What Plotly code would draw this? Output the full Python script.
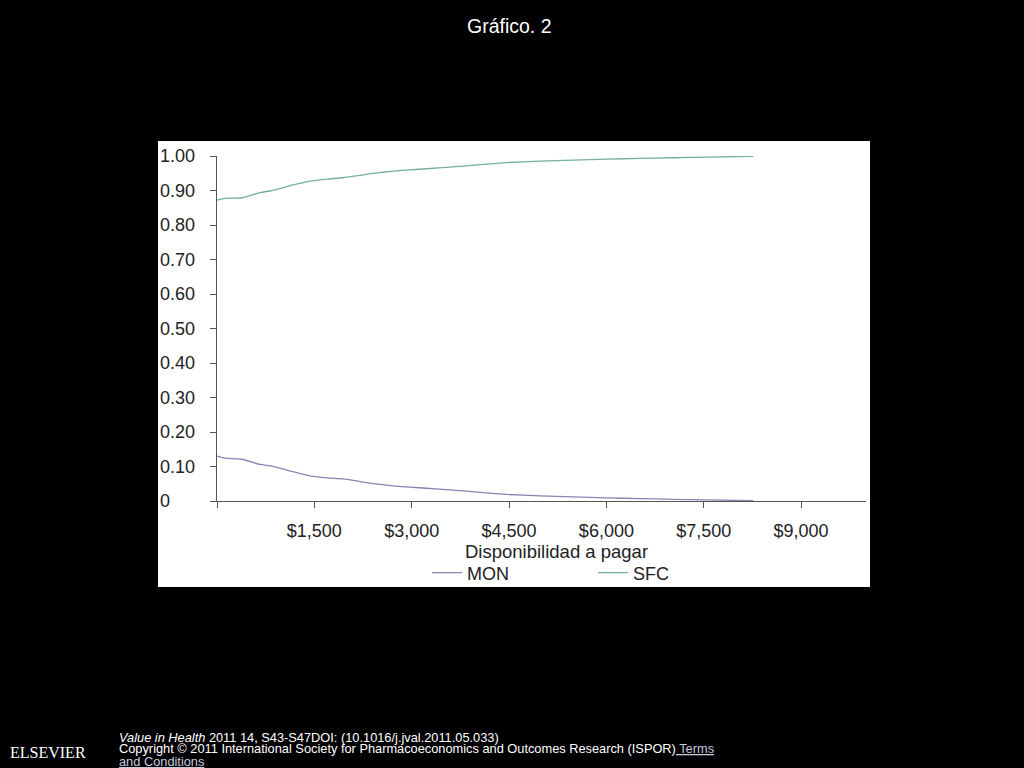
import plotly.graph_objects as go

# willingness to pay (x) and probability of being cost-effective (y)
wtp = [0, 123, 385, 663, 848, 1172, 1434, 1696, 1942, 2205, 2467, 2713, 2975,
       3237, 3592, 3746, 4101, 4471, 4980, 5488, 6012, 6521, 7029, 7554, 8263]
mon = [0.130, 0.124, 0.121, 0.106, 0.101, 0.085, 0.073, 0.067, 0.064, 0.056,
       0.049, 0.044, 0.040, 0.037, 0.032, 0.030, 0.024, 0.019, 0.015, 0.012,
       0.009, 0.007, 0.005, 0.003, 0.001]
sfc = [0.872, 0.877, 0.879, 0.894, 0.900, 0.916, 0.927, 0.933, 0.937, 0.944,
       0.951, 0.956, 0.960, 0.963, 0.968, 0.970, 0.976, 0.981, 0.985, 0.988,
       0.991, 0.993, 0.995, 0.997, 0.999]

x_ticks = [0, 1500, 3000, 4500, 6000, 7500, 9000]
x_labels = ["", "$1,500", "$3,000", "$4,500", "$6,000", "$7,500", "$9,000"]
y_ticks = [1.0, 0.9, 0.8, 0.7, 0.6, 0.5, 0.4, 0.3, 0.2, 0.1, 0.0]
y_labels = ["1.00", "0.90", "0.80", "0.70", "0.60", "0.50", "0.40", "0.30", "0.20", "0.10", "0"]

FONT = "Arial, Liberation Sans, sans-serif"
AXIS = "#555555"
INK = "#222222"

fig = go.Figure()
fig.add_trace(go.Scatter(x=wtp, y=mon, mode="lines", name="MON",
                         line=dict(color="#8686b2", width=1.3, shape="spline", smoothing=0.6)))
fig.add_trace(go.Scatter(x=wtp, y=sfc, mode="lines", name="SFC",
                         line=dict(color="#74b09c", width=1.3, shape="spline", smoothing=0.6)))

# plot area: x 217..866 px, y 156..501 px
L, R, T, B = 217, 158, 156, 267
pw = 1024 - L - R
ph = 768 - T - B

def px_x(p):
    return (p - L) / pw

def px_y(p):
    return (768 - B - p) / ph

# white panel behind the chart
fig.add_shape(type="rect", xref="paper", yref="paper",
              x0=px_x(158), x1=px_x(870), y0=px_y(587), y1=px_y(141),
              fillcolor="white", line=dict(width=0), layer="below")

annotations = []
for v, t in zip(y_ticks, y_labels):
    annotations.append(dict(x=px_x(158), y=v, xref="paper", yref="y", text=t,
                            showarrow=False, xanchor="left", yanchor="middle",
                            font=dict(family=FONT, size=18, color=INK)))

annotations.append(dict(x=px_x(556), y=px_y(551), xref="paper", yref="paper",
                        text="Disponibilidad a pagar", showarrow=False,
                        xanchor="center", yanchor="middle",
                        font=dict(family=FONT, size=18.5, color=INK)))

annotations.append(dict(x=px_x(509), y=px_y(26), xref="paper", yref="paper",
                        text="Gráfico. 2", showarrow=False,
                        xanchor="center", yanchor="middle",
                        font=dict(family=FONT, size=19.5, color="white")))

annotations.append(dict(x=px_x(48), y=px_y(752), xref="paper", yref="paper",
                        text="ELSEVIER", showarrow=False,
                        xanchor="center", yanchor="middle",
                        font=dict(family="Liberation Serif, Times New Roman, serif",
                                  size=16, color="white")))

cite_font = dict(family=FONT, size=12.8, color="white")
annotations.append(dict(x=px_x(117), y=px_y(737), xref="paper", yref="paper",
                        text="<i>Value in Health</i> 2011 14, S43-S47DOI: (10.1016/j.jval.2011.05.033)",
                        showarrow=False, xanchor="left", yanchor="middle", font=cite_font))
annotations.append(dict(x=px_x(117), y=px_y(748), xref="paper", yref="paper",
                        text="Copyright © 2011 International Society for Pharmacoeconomics and Outcomes Research (ISPOR)"
                             "<span style='color:#c8c8dc'><u> Terms</u></span>",
                        showarrow=False, xanchor="left", yanchor="middle", font=cite_font))
annotations.append(dict(x=px_x(117), y=px_y(761), xref="paper", yref="paper",
                        text="<span style='color:#c8c8dc'><u>and Conditions</u></span>",
                        showarrow=False, xanchor="left", yanchor="middle", font=cite_font))

fig.update_layout(
    width=1024, height=768,
    margin=dict(l=L, r=R, t=T, b=B, pad=0),
    paper_bgcolor="black", plot_bgcolor="white",
    font=dict(family=FONT, size=18, color=INK),
    showlegend=True,
    legend=dict(orientation="h", x=px_x(427), y=px_y(573), xanchor="left",
                yanchor="middle", entrywidth=121, entrywidthmode="pixels",
                bgcolor="rgba(0,0,0,0)", font=dict(family=FONT, size=18, color=INK)),
    annotations=annotations,
)
fig.update_xaxes(range=[0, 10000], tickvals=x_ticks, ticktext=x_labels,
                 ticks="outside", ticklen=6, tickcolor=AXIS, tickwidth=1,
                 showline=True, linecolor=AXIS, linewidth=1, showgrid=False,
                 zeroline=False, ticklabelstandoff=7,
                 tickfont=dict(family=FONT, size=18, color=INK))
fig.update_yaxes(range=[0, 1], tickvals=y_ticks, showticklabels=False,
                 ticks="outside", ticklen=6, tickcolor=AXIS, tickwidth=1,
                 showline=True, linecolor=AXIS, linewidth=1, showgrid=False,
                 zeroline=False)

# drop the default page margin so the figure sits at the window's corner
fig.write_html("out.html", config={"displayModeBar": False},
               post_script="document.body.style.margin='0';")
